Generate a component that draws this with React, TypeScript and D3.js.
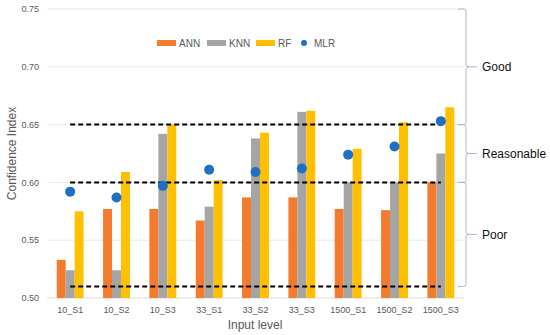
import * as d3 from 'd3';

const [W, H] = [550, 335];

const categories = ['10_S1', '10_S2', '10_S3', '33_S1', '33_S2', '33_S3', '1500_S1', '1500_S2', '1500_S3'];
const annValues = [0.533, 0.577, 0.577, 0.567, 0.587, 0.587, 0.577, 0.576, 0.600];
const knnValues = [0.524, 0.524, 0.642, 0.579, 0.638, 0.661, 0.600, 0.600, 0.625];
const rfValues = [0.575, 0.609, 0.650, 0.602, 0.643, 0.662, 0.629, 0.652, 0.665];
const mlrValues = [0.592, 0.587, 0.597, 0.611, 0.609, 0.612, 0.624, 0.631, 0.653];
const yTicks = [0.5, 0.55, 0.6, 0.65, 0.7, 0.75];
const thresholds = [0.51, 0.6, 0.65];
const zones = [
    {label: 'Good', from: 0.65, to: 0.75},
    {label: 'Reasonable', from: 0.6, to: 0.65},
    {label: 'Poor', from: 0.51, to: 0.6},
];

const series = [
    {name: 'ANN', values: annValues, color: '#F47B2E'},
    {name: 'KNN', values: knnValues, color: '#A5A5A5'},
    {name: 'RF', values: rfValues, color: '#FFC000'},
];
const mlrColor = '#1F6FC5';

const plot = {left: 47, right: 464, top: 9, bottom: 298};
const font = '"Liberation Sans", Arial, sans-serif';
const labelColor = '#595959';

function App() {
    const x = d3.scaleBand().domain(categories).range([plot.left, plot.right])
        .paddingInner(0.42).paddingOuter(0.21);
    const inner = d3.scaleBand().domain(series.map(s => s.name)).range([0, x.bandwidth()]);
    const y = d3.scaleLinear().domain([0.5, 0.75]).range([plot.bottom, plot.top]);
    const cx = c => x(c) + x.bandwidth() / 2;

    // curly-ish brace on the right of the plot
    const braceX = 466;
    const brace = (top, bottom) => {
        const mid = (top + bottom) / 2;
        return `M${braceX - 8},${top} L${braceX - 2},${top} Q${braceX},${top} ${braceX},${top + 2}`
            + ` L${braceX},${mid - 2} Q${braceX},${mid} ${braceX + 3},${mid} L${braceX + 11},${mid}`
            + ` M${braceX + 3},${mid} Q${braceX},${mid} ${braceX},${mid + 2}`
            + ` L${braceX},${bottom - 2} Q${braceX},${bottom} ${braceX - 2},${bottom} L${braceX - 8},${bottom}`;
    };

    return (
        <svg width={W} height={H} style={{position: 'absolute', left: 0, top: 0, background: '#fff'}}>
            {/* gridlines */}
            {yTicks.map(t => (
                <line key={t} x1={plot.left} x2={plot.right} y1={y(t)} y2={y(t)}
                      stroke={t === 0.5 ? '#d9d9d9' : '#e8e8e8'} strokeWidth={1} />
            ))}
            {yTicks.map(t => (
                <text key={'l' + t} x={39} y={y(t)} dy="0.35em" textAnchor="end"
                      fontFamily={font} fontSize={9} fill={labelColor}>{d3.format('.2f')(t)}</text>
            ))}

            {/* bars */}
            {categories.map((c, i) => (
                <g key={c} transform={`translate(${x(c)},0)`}>
                    {series.map(s => (
                        <rect key={s.name} x={inner(s.name)} y={y(s.values[i])}
                              width={inner.bandwidth()} height={y(0.5) - y(s.values[i])} fill={s.color} />
                    ))}
                </g>
            ))}

            {/* thresholds */}
            {thresholds.map(t => (
                <line key={t} x1={cx(categories[0])} x2={cx(categories[categories.length - 1])}
                      y1={y(t)} y2={y(t)} stroke="#000" strokeWidth={2} strokeDasharray="5,3" />
            ))}

            {/* MLR points */}
            {categories.map((c, i) => (
                <circle key={c} cx={cx(c)} cy={y(mlrValues[i])} r={5} fill={mlrColor} />
            ))}

            {/* x labels */}
            {categories.map(c => (
                <text key={c} x={cx(c)} y={313} textAnchor="middle"
                      fontFamily={font} fontSize={9} fill={labelColor}>{c}</text>
            ))}
            <text x={255} y={329} textAnchor="middle" fontFamily={font} fontSize={12} fill={labelColor}>Input level</text>
            <text transform={`translate(16,${(plot.top + plot.bottom) / 2}) rotate(-90)`} textAnchor="middle"
                  fontFamily={font} fontSize={12} fill={labelColor}>Confidence Index</text>

            {/* legend */}
            <g fontFamily={font} fontSize={10} fill={labelColor}>
                {series.map((s, i) => {
                    const lx = [157, 207, 256][i];
                    return (
                        <g key={s.name}>
                            <rect x={lx} y={40} width={19} height={6} fill={s.color} />
                            <text x={lx + 22} y={43} dy="0.35em">{s.name}</text>
                        </g>
                    );
                })}
                <circle cx={304} cy={43} r={3} fill={mlrColor} />
                <text x={314} y={43} dy="0.35em">MLR</text>
            </g>

            {/* zone braces */}
            {zones.map(z => (
                <g key={z.label}>
                    <path d={brace(y(z.to), y(z.from))} fill="none" stroke="#aab8c6" strokeWidth={1} />
                    <text x={482} y={(y(z.to) + y(z.from)) / 2} dy="0.35em"
                          fontFamily={font} fontSize={12} fill="#111">{z.label}</text>
                </g>
            ))}
        </svg>
    );
}

export default App;
